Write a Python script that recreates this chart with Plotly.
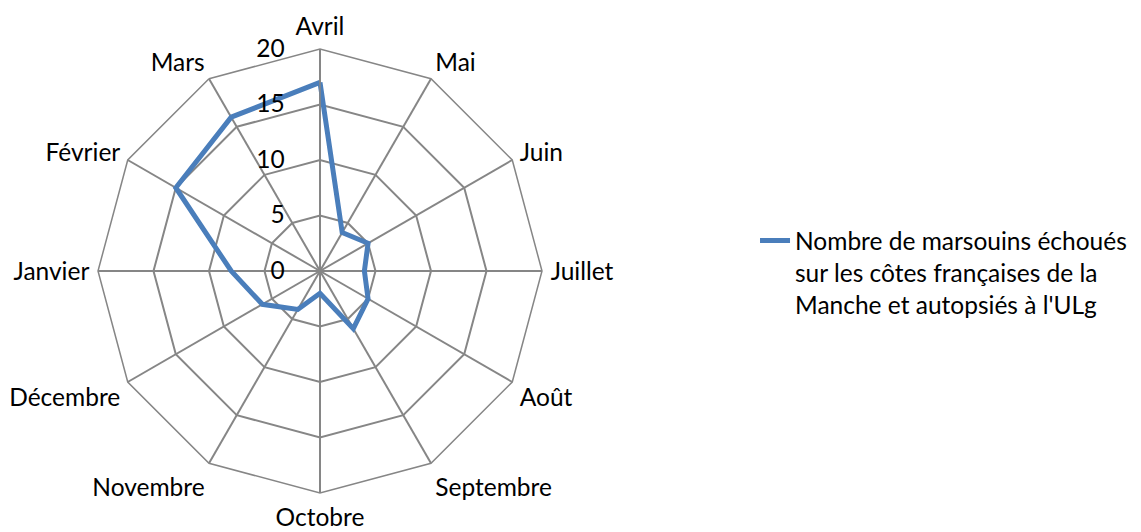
import plotly.graph_objects as go

# Months clockwise from the top
months = ['Avril', 'Mai', 'Juin', 'Juillet', 'Août', 'Septembre', 'Octobre',
          'Novembre', 'Décembre', 'Janvier', 'Février', 'Mars']
counts = [17, 4, 5, 4, 5, 6, 2, 4, 6, 8, 15, 16]
radial_ticks = [0, 5, 10, 15, 20]
series_name = ("Nombre de marsouins échoués<br>sur les côtes françaises de la"
               "<br>Manche et autopsiés à l'ULg")

GRID = '#868686'
FONT = dict(family='Lato, "Open Sans", sans-serif', size=24.5, color='#000000')

fig = go.Figure()
fig.add_trace(go.Scatterpolar(
    r=counts + counts[:1],
    theta=months + months[:1],
    mode='lines',
    name=series_name,
    line=dict(color='#4A7EBB', width=5),
    showlegend=True
))

fig.update_layout(
    width=1141,
    height=532,
    margin=dict(l=0, r=0, t=0, b=0),
    paper_bgcolor='white',
    plot_bgcolor='white',
    font=FONT,
    polar=dict(
        domain=dict(x=[90 / 1141, 534 / 1141], y=[1 - 485 / 532, 1 - 41 / 532]),
        bgcolor='white',
        gridshape='linear',
        angularaxis=dict(
            direction='clockwise',
            rotation=90,
            categoryorder='array',
            categoryarray=months,
            showline=True,
            linecolor=GRID,
            linewidth=1.5,
            gridcolor=GRID,
            gridwidth=1.5,
            ticks='outside',
            ticklen=3,
            tickcolor='rgba(0,0,0,0)',
            tickfont=FONT
        ),
        radialaxis=dict(
            range=[0, 20],
            tickvals=radial_ticks,
            angle=90,
            side='counterclockwise',
            tickangle=90,
            showline=True,
            linecolor=GRID,
            linewidth=1.5,
            gridcolor=GRID,
            gridwidth=1.5,
            ticks='outside',
            ticklen=26,
            tickcolor='rgba(0,0,0,0)',
            tickfont=FONT
        )
    ),
    legend=dict(
        x=0.6547,
        y=0.605,
        xanchor='left',
        yanchor='top',
        valign='top',
        font=FONT,
        bgcolor='rgba(0,0,0,0)'
    ),
    showlegend=True
)

fig.write_html("out.html")
